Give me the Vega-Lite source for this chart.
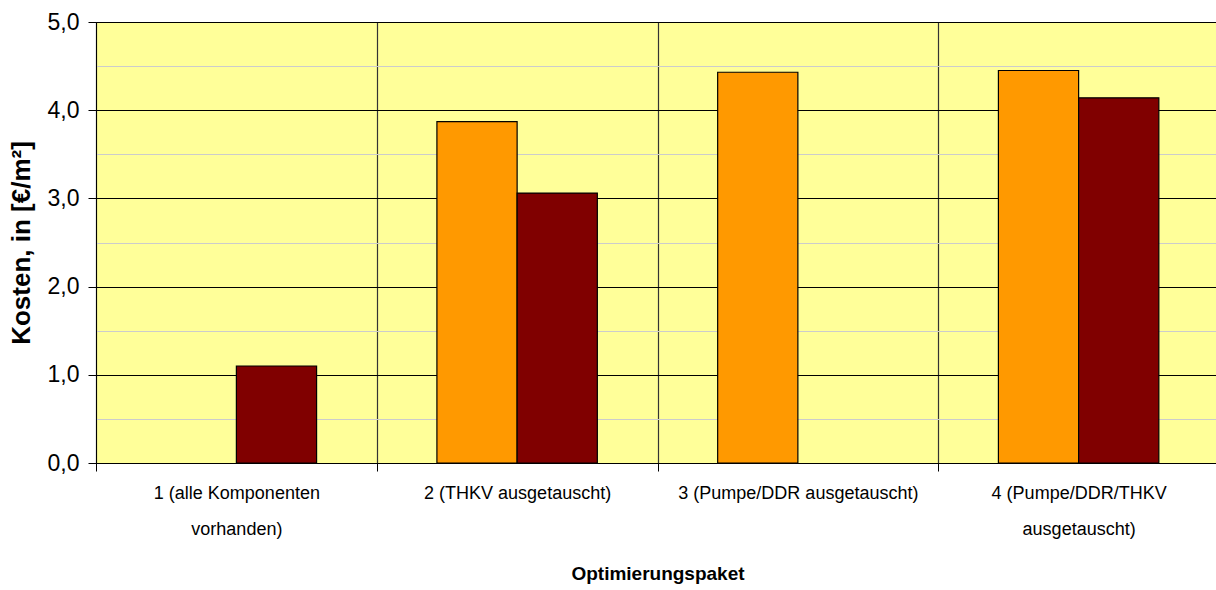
{
  "$schema": "https://vega.github.io/schema/vega-lite/v6.json",
  "width": 1123,
  "height": 441,
  "autosize": {"type": "none"},
  "padding": {"left": 96, "top": 22, "right": 0, "bottom": 127},
  "background": "white",
  "config": {
    "view": {"fill": "#FFFF99", "stroke": "black", "strokeWidth": 1},
    "font": "Liberation Sans"
  },
  "data": {
    "values": [
      {"paket": "1 (alle Komponenten vorhanden)", "reihe": "Reihe 2", "kosten": 1.10},
      {"paket": "2 (THKV ausgetauscht)", "reihe": "Reihe 1", "kosten": 3.87},
      {"paket": "2 (THKV ausgetauscht)", "reihe": "Reihe 2", "kosten": 3.06},
      {"paket": "3 (Pumpe/DDR ausgetauscht)", "reihe": "Reihe 1", "kosten": 4.43},
      {"paket": "4 (Pumpe/DDR/THKV ausgetauscht)", "reihe": "Reihe 1", "kosten": 4.45},
      {"paket": "4 (Pumpe/DDR/THKV ausgetauscht)", "reihe": "Reihe 2", "kosten": 4.14}
    ]
  },
  "mark": {"type": "bar", "stroke": "black", "strokeWidth": 1.2},
  "encoding": {
    "x": {
      "field": "paket",
      "type": "nominal",
      "sort": ["1 (alle Komponenten vorhanden)", "2 (THKV ausgetauscht)", "3 (Pumpe/DDR ausgetauscht)", "4 (Pumpe/DDR/THKV ausgetauscht)"],
      "scale": {"paddingInner": 0, "paddingOuter": 0},
      "axis": {
        "title": "Optimierungspaket",
        "titleFontSize": 19,
        "titleFontWeight": "bold",
        "titleColor": "black",
        "titlePadding": 26,
        "labelAngle": 0,
        "labelFontSize": 18,
        "labelColor": "black",
        "labelLineHeight": 36,
        "labelPadding": 13,
        "labelLimit": 500,
        "labelExpr": "datum.value == '1 (alle Komponenten vorhanden)' ? ['1 (alle Komponenten', 'vorhanden)'] : datum.value == '4 (Pumpe/DDR/THKV ausgetauscht)' ? ['4 (Pumpe/DDR/THKV', 'ausgetauscht)'] : datum.value",
        "tickBand": "extent",
        "tickSize": 8,
        "tickColor": "black",
        "domainColor": "black",
        "grid": true,
        "gridColor": "#333333",
        "gridWidth": 1.2
      }
    },
    "xOffset": {
      "field": "reihe",
      "scale": {"domain": ["Reihe 1", "Reihe 2"], "paddingInner": 0, "paddingOuter": 0.75}
    },
    "y": {
      "field": "kosten",
      "type": "quantitative",
      "scale": {"domain": [0, 5], "nice": false},
      "axis": {
        "title": "Kosten, in [€/m²]",
        "titleFontSize": 26,
        "titleFontWeight": "bold",
        "titleColor": "black",
        "titlePadding": 13,
        "values": [0, 0.5, 1, 1.5, 2, 2.5, 3, 3.5, 4, 4.5, 5],
        "labelExpr": "datum.value % 1 === 0 ? replace(format(datum.value, '.1f'), '.', ',') : ''",
        "labelFontSize": 23,
        "labelColor": "black",
        "labelPadding": 9,
        "tickSize": 8,
        "tickColor": "black",
        "tickOpacity": {"condition": {"test": "datum.value % 1 === 0", "value": 1}, "value": 0},
        "domainColor": "black",
        "grid": true,
        "gridColor": {"condition": {"test": "datum.value % 1 === 0", "value": "black"}, "value": "#CCCCCC"},
        "gridWidth": 1
      }
    },
    "color": {
      "field": "reihe",
      "type": "nominal",
      "scale": {"domain": ["Reihe 1", "Reihe 2"], "range": ["#FF9900", "#800000"]},
      "legend": null
    }
  }
}
